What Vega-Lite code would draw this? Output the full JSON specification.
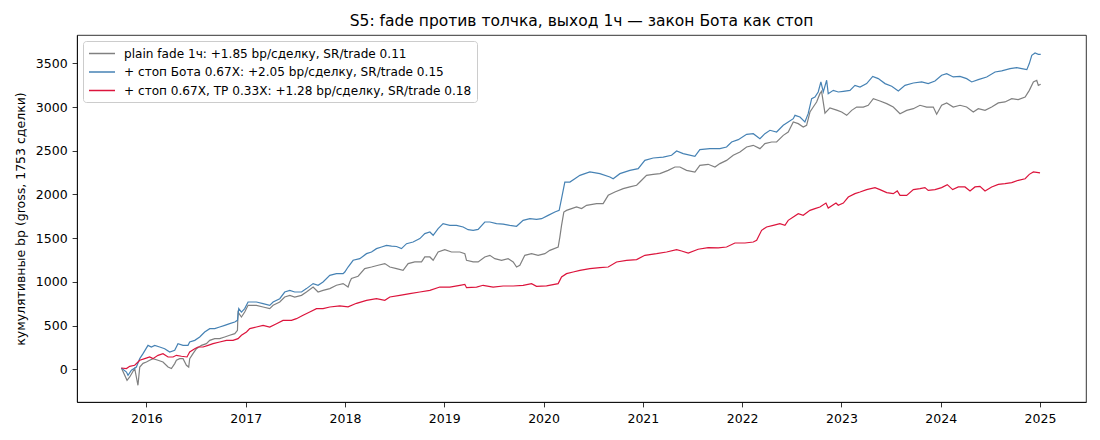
{
"$schema": "https://vega.github.io/schema/vega-lite/v6.json",
"width": 1009, "height": 367,
"autosize": {"type": "none"},
"padding": {"left": 77, "top": 35, "right": 14, "bottom": 38},
"background": "white",
"config": {"font": "DejaVu Sans", "view": {"stroke": "black", "strokeWidth": 0.8},
  "axis": {"labelFont": "DejaVu Sans", "labelFontSize": 12.5, "labelColor": "black", "tickColor": "black", "domainColor": "black", "tickSize": 4.9, "tickWidth": 0.8, "domainWidth": 0.8, "grid": false, "titleFont": "DejaVu Sans", "titleFontSize": 12.5, "titleFontWeight": "normal", "titleColor": "black"}},
"title": {"text": "S5: fade против толчка, выход 1ч — закон Бота как стоп", "font": "DejaVu Sans", "fontSize": 15.5, "fontWeight": "normal", "color": "black", "offset": 6, "anchor": "middle", "frame": "group"},
"data": {"values": [
{"s":"G","t":2015.748,"v":15},{"s":"G","t":2015.805,"v":-126},{"s":"G","t":2015.832,"v":-88},{"s":"G","t":2015.882,"v":10},{"s":"G","t":2015.915,"v":-183},{"s":"G","t":2015.933,"v":26},{"s":"G","t":2015.966,"v":68},{"s":"G","t":2016.0,"v":83},{"s":"G","t":2016.033,"v":103},{"s":"G","t":2016.066,"v":122},{"s":"G","t":2016.117,"v":103},{"s":"G","t":2016.167,"v":84},{"s":"G","t":2016.218,"v":26},{"s":"G","t":2016.252,"v":8},{"s":"G","t":2016.285,"v":65},{"s":"G","t":2016.302,"v":103},{"s":"G","t":2016.335,"v":122},{"s":"G","t":2016.369,"v":122},{"s":"G","t":2016.403,"v":46},{"s":"G","t":2016.426,"v":26},{"s":"G","t":2016.436,"v":122},{"s":"G","t":2016.469,"v":179},{"s":"G","t":2016.504,"v":236},{"s":"G","t":2016.554,"v":274},{"s":"G","t":2016.604,"v":293},{"s":"G","t":2016.638,"v":331},{"s":"G","t":2016.688,"v":351},{"s":"G","t":2016.738,"v":351},{"s":"G","t":2016.789,"v":370},{"s":"G","t":2016.839,"v":389},{"s":"G","t":2016.89,"v":408},{"s":"G","t":2016.917,"v":446},{"s":"G","t":2016.923,"v":655},{"s":"G","t":2016.957,"v":598},{"s":"G","t":2016.99,"v":655},{"s":"G","t":2017.024,"v":732},{"s":"G","t":2017.108,"v":732},{"s":"G","t":2017.175,"v":713},{"s":"G","t":2017.242,"v":694},{"s":"G","t":2017.276,"v":732},{"s":"G","t":2017.343,"v":770},{"s":"G","t":2017.393,"v":827},{"s":"G","t":2017.444,"v":846},{"s":"G","t":2017.494,"v":827},{"s":"G","t":2017.562,"v":846},{"s":"G","t":2017.612,"v":884},{"s":"G","t":2017.679,"v":941},{"s":"G","t":2017.729,"v":884},{"s":"G","t":2017.779,"v":903},{"s":"G","t":2017.847,"v":923},{"s":"G","t":2017.914,"v":961},{"s":"G","t":2017.981,"v":980},{"s":"G","t":2018.031,"v":941},{"s":"G","t":2018.048,"v":999},{"s":"G","t":2018.065,"v":1040},{"s":"G","t":2018.132,"v":1065},{"s":"G","t":2018.199,"v":1152},{"s":"G","t":2018.267,"v":1170},{"s":"G","t":2018.334,"v":1190},{"s":"G","t":2018.401,"v":1209},{"s":"G","t":2018.452,"v":1170},{"s":"G","t":2018.519,"v":1152},{"s":"G","t":2018.585,"v":1132},{"s":"G","t":2018.636,"v":1209},{"s":"G","t":2018.703,"v":1228},{"s":"G","t":2018.771,"v":1228},{"s":"G","t":2018.804,"v":1285},{"s":"G","t":2018.855,"v":1285},{"s":"G","t":2018.888,"v":1247},{"s":"G","t":2018.938,"v":1342},{"s":"G","t":2019.005,"v":1369},{"s":"G","t":2019.073,"v":1342},{"s":"G","t":2019.157,"v":1342},{"s":"G","t":2019.207,"v":1323},{"s":"G","t":2019.224,"v":1247},{"s":"G","t":2019.291,"v":1228},{"s":"G","t":2019.341,"v":1228},{"s":"G","t":2019.408,"v":1285},{"s":"G","t":2019.459,"v":1304},{"s":"G","t":2019.509,"v":1266},{"s":"G","t":2019.577,"v":1247},{"s":"G","t":2019.643,"v":1266},{"s":"G","t":2019.694,"v":1228},{"s":"G","t":2019.728,"v":1170},{"s":"G","t":2019.761,"v":1190},{"s":"G","t":2019.811,"v":1304},{"s":"G","t":2019.879,"v":1323},{"s":"G","t":2019.945,"v":1304},{"s":"G","t":2020.013,"v":1323},{"s":"G","t":2020.063,"v":1361},{"s":"G","t":2020.147,"v":1399},{"s":"G","t":2020.164,"v":1513},{"s":"G","t":2020.181,"v":1647},{"s":"G","t":2020.204,"v":1799},{"s":"G","t":2020.231,"v":1818},{"s":"G","t":2020.282,"v":1838},{"s":"G","t":2020.332,"v":1857},{"s":"G","t":2020.383,"v":1838},{"s":"G","t":2020.433,"v":1876},{"s":"G","t":2020.534,"v":1895},{"s":"G","t":2020.6,"v":1895},{"s":"G","t":2020.651,"v":1990},{"s":"G","t":2020.718,"v":2028},{"s":"G","t":2020.802,"v":2067},{"s":"G","t":2020.869,"v":2086},{"s":"G","t":2020.937,"v":2105},{"s":"G","t":2020.97,"v":2142},{"s":"G","t":2021.037,"v":2219},{"s":"G","t":2021.104,"v":2230},{"s":"G","t":2021.172,"v":2238},{"s":"G","t":2021.255,"v":2276},{"s":"G","t":2021.323,"v":2314},{"s":"G","t":2021.373,"v":2314},{"s":"G","t":2021.44,"v":2276},{"s":"G","t":2021.524,"v":2257},{"s":"G","t":2021.574,"v":2333},{"s":"G","t":2021.658,"v":2345},{"s":"G","t":2021.726,"v":2314},{"s":"G","t":2021.776,"v":2353},{"s":"G","t":2021.843,"v":2390},{"s":"G","t":2021.91,"v":2448},{"s":"G","t":2021.978,"v":2486},{"s":"G","t":2022.045,"v":2543},{"s":"G","t":2022.112,"v":2562},{"s":"G","t":2022.179,"v":2524},{"s":"G","t":2022.229,"v":2581},{"s":"G","t":2022.297,"v":2600},{"s":"G","t":2022.347,"v":2600},{"s":"G","t":2022.414,"v":2676},{"s":"G","t":2022.464,"v":2714},{"s":"G","t":2022.515,"v":2829},{"s":"G","t":2022.565,"v":2810},{"s":"G","t":2022.615,"v":2772},{"s":"G","t":2022.649,"v":2791},{"s":"G","t":2022.683,"v":2943},{"s":"G","t":2022.716,"v":3000},{"s":"G","t":2022.75,"v":3058},{"s":"G","t":2022.783,"v":3153},{"s":"G","t":2022.8,"v":3180},{"s":"G","t":2022.834,"v":2930},{"s":"G","t":2022.884,"v":2990},{"s":"G","t":2022.952,"v":2965},{"s":"G","t":2023.002,"v":2943},{"s":"G","t":2023.053,"v":2905},{"s":"G","t":2023.103,"v":2962},{"s":"G","t":2023.153,"v":3000},{"s":"G","t":2023.22,"v":3000},{"s":"G","t":2023.27,"v":3020},{"s":"G","t":2023.321,"v":3096},{"s":"G","t":2023.388,"v":3069},{"s":"G","t":2023.456,"v":3039},{"s":"G","t":2023.522,"v":3000},{"s":"G","t":2023.59,"v":2924},{"s":"G","t":2023.657,"v":2962},{"s":"G","t":2023.724,"v":2981},{"s":"G","t":2023.791,"v":3020},{"s":"G","t":2023.858,"v":3000},{"s":"G","t":2023.925,"v":3000},{"s":"G","t":2023.959,"v":2917},{"s":"G","t":2024.009,"v":3020},{"s":"G","t":2024.06,"v":3047},{"s":"G","t":2024.126,"v":3000},{"s":"G","t":2024.194,"v":3020},{"s":"G","t":2024.261,"v":3000},{"s":"G","t":2024.328,"v":2943},{"s":"G","t":2024.378,"v":2981},{"s":"G","t":2024.446,"v":2962},{"s":"G","t":2024.513,"v":3000},{"s":"G","t":2024.58,"v":3047},{"s":"G","t":2024.647,"v":3058},{"s":"G","t":2024.715,"v":3096},{"s":"G","t":2024.781,"v":3085},{"s":"G","t":2024.85,"v":3115},{"s":"G","t":2024.892,"v":3191},{"s":"G","t":2024.933,"v":3287},{"s":"G","t":2024.967,"v":3306},{"s":"G","t":2024.983,"v":3248},{"s":"G","t":2025.007,"v":3260},
{"s":"B","t":2015.748,"v":15},{"s":"B","t":2015.799,"v":-31},{"s":"B","t":2015.815,"v":-69},{"s":"B","t":2015.849,"v":-11},{"s":"B","t":2015.899,"v":26},{"s":"B","t":2015.933,"v":122},{"s":"B","t":2015.966,"v":179},{"s":"B","t":2016.016,"v":274},{"s":"B","t":2016.05,"v":255},{"s":"B","t":2016.084,"v":274},{"s":"B","t":2016.134,"v":255},{"s":"B","t":2016.184,"v":236},{"s":"B","t":2016.235,"v":198},{"s":"B","t":2016.285,"v":217},{"s":"B","t":2016.318,"v":293},{"s":"B","t":2016.369,"v":274},{"s":"B","t":2016.419,"v":274},{"s":"B","t":2016.436,"v":312},{"s":"B","t":2016.487,"v":331},{"s":"B","t":2016.537,"v":370},{"s":"B","t":2016.587,"v":427},{"s":"B","t":2016.638,"v":465},{"s":"B","t":2016.688,"v":465},{"s":"B","t":2016.738,"v":484},{"s":"B","t":2016.789,"v":503},{"s":"B","t":2016.839,"v":522},{"s":"B","t":2016.89,"v":541},{"s":"B","t":2016.917,"v":560},{"s":"B","t":2016.93,"v":694},{"s":"B","t":2016.957,"v":655},{"s":"B","t":2016.99,"v":694},{"s":"B","t":2017.024,"v":770},{"s":"B","t":2017.108,"v":770},{"s":"B","t":2017.175,"v":751},{"s":"B","t":2017.242,"v":732},{"s":"B","t":2017.276,"v":770},{"s":"B","t":2017.343,"v":808},{"s":"B","t":2017.393,"v":884},{"s":"B","t":2017.444,"v":903},{"s":"B","t":2017.494,"v":884},{"s":"B","t":2017.562,"v":884},{"s":"B","t":2017.612,"v":923},{"s":"B","t":2017.679,"v":980},{"s":"B","t":2017.729,"v":961},{"s":"B","t":2017.779,"v":999},{"s":"B","t":2017.847,"v":1075},{"s":"B","t":2017.914,"v":1094},{"s":"B","t":2017.981,"v":1094},{"s":"B","t":2017.998,"v":1113},{"s":"B","t":2018.031,"v":1170},{"s":"B","t":2018.082,"v":1247},{"s":"B","t":2018.149,"v":1266},{"s":"B","t":2018.217,"v":1323},{"s":"B","t":2018.267,"v":1342},{"s":"B","t":2018.317,"v":1380},{"s":"B","t":2018.368,"v":1399},{"s":"B","t":2018.418,"v":1418},{"s":"B","t":2018.469,"v":1410},{"s":"B","t":2018.519,"v":1405},{"s":"B","t":2018.569,"v":1380},{"s":"B","t":2018.62,"v":1437},{"s":"B","t":2018.686,"v":1456},{"s":"B","t":2018.754,"v":1495},{"s":"B","t":2018.804,"v":1552},{"s":"B","t":2018.855,"v":1570},{"s":"B","t":2018.888,"v":1533},{"s":"B","t":2018.938,"v":1609},{"s":"B","t":2018.988,"v":1666},{"s":"B","t":2019.056,"v":1647},{"s":"B","t":2019.123,"v":1647},{"s":"B","t":2019.19,"v":1628},{"s":"B","t":2019.24,"v":1597},{"s":"B","t":2019.291,"v":1590},{"s":"B","t":2019.341,"v":1600},{"s":"B","t":2019.408,"v":1685},{"s":"B","t":2019.459,"v":1685},{"s":"B","t":2019.526,"v":1666},{"s":"B","t":2019.593,"v":1660},{"s":"B","t":2019.66,"v":1647},{"s":"B","t":2019.728,"v":1636},{"s":"B","t":2019.794,"v":1704},{"s":"B","t":2019.862,"v":1723},{"s":"B","t":2019.929,"v":1715},{"s":"B","t":2019.98,"v":1723},{"s":"B","t":2020.046,"v":1761},{"s":"B","t":2020.114,"v":1799},{"s":"B","t":2020.157,"v":1818},{"s":"B","t":2020.181,"v":1952},{"s":"B","t":2020.214,"v":2142},{"s":"B","t":2020.265,"v":2142},{"s":"B","t":2020.315,"v":2180},{"s":"B","t":2020.366,"v":2219},{"s":"B","t":2020.416,"v":2238},{"s":"B","t":2020.466,"v":2257},{"s":"B","t":2020.567,"v":2238},{"s":"B","t":2020.668,"v":2200},{"s":"B","t":2020.701,"v":2180},{"s":"B","t":2020.769,"v":2238},{"s":"B","t":2020.869,"v":2276},{"s":"B","t":2020.953,"v":2295},{"s":"B","t":2021.02,"v":2390},{"s":"B","t":2021.104,"v":2417},{"s":"B","t":2021.205,"v":2428},{"s":"B","t":2021.289,"v":2448},{"s":"B","t":2021.34,"v":2497},{"s":"B","t":2021.406,"v":2467},{"s":"B","t":2021.524,"v":2436},{"s":"B","t":2021.574,"v":2513},{"s":"B","t":2021.675,"v":2524},{"s":"B","t":2021.776,"v":2524},{"s":"B","t":2021.843,"v":2543},{"s":"B","t":2021.894,"v":2600},{"s":"B","t":2021.961,"v":2627},{"s":"B","t":2022.045,"v":2688},{"s":"B","t":2022.112,"v":2695},{"s":"B","t":2022.179,"v":2638},{"s":"B","t":2022.229,"v":2695},{"s":"B","t":2022.28,"v":2734},{"s":"B","t":2022.347,"v":2714},{"s":"B","t":2022.414,"v":2791},{"s":"B","t":2022.464,"v":2829},{"s":"B","t":2022.515,"v":2867},{"s":"B","t":2022.532,"v":2905},{"s":"B","t":2022.582,"v":2886},{"s":"B","t":2022.632,"v":2829},{"s":"B","t":2022.665,"v":2924},{"s":"B","t":2022.7,"v":3096},{"s":"B","t":2022.733,"v":3115},{"s":"B","t":2022.766,"v":3172},{"s":"B","t":2022.793,"v":3287},{"s":"B","t":2022.817,"v":3172},{"s":"B","t":2022.851,"v":3306},{"s":"B","t":2022.867,"v":3153},{"s":"B","t":2022.918,"v":3191},{"s":"B","t":2022.968,"v":3172},{"s":"B","t":2023.019,"v":3180},{"s":"B","t":2023.086,"v":3191},{"s":"B","t":2023.136,"v":3248},{"s":"B","t":2023.187,"v":3229},{"s":"B","t":2023.254,"v":3268},{"s":"B","t":2023.315,"v":3351},{"s":"B","t":2023.371,"v":3325},{"s":"B","t":2023.439,"v":3268},{"s":"B","t":2023.506,"v":3237},{"s":"B","t":2023.573,"v":3184},{"s":"B","t":2023.64,"v":3248},{"s":"B","t":2023.724,"v":3275},{"s":"B","t":2023.808,"v":3287},{"s":"B","t":2023.874,"v":3268},{"s":"B","t":2023.942,"v":3298},{"s":"B","t":2024.009,"v":3363},{"s":"B","t":2024.06,"v":3382},{"s":"B","t":2024.126,"v":3344},{"s":"B","t":2024.194,"v":3351},{"s":"B","t":2024.261,"v":3325},{"s":"B","t":2024.312,"v":3287},{"s":"B","t":2024.378,"v":3313},{"s":"B","t":2024.463,"v":3344},{"s":"B","t":2024.547,"v":3401},{"s":"B","t":2024.614,"v":3413},{"s":"B","t":2024.698,"v":3439},{"s":"B","t":2024.765,"v":3451},{"s":"B","t":2024.816,"v":3440},{"s":"B","t":2024.867,"v":3428},{"s":"B","t":2024.892,"v":3497},{"s":"B","t":2024.917,"v":3592},{"s":"B","t":2024.95,"v":3618},{"s":"B","t":2024.983,"v":3603},{"s":"B","t":2025.007,"v":3603},
{"s":"R","t":2015.748,"v":15},{"s":"R","t":2015.799,"v":8},{"s":"R","t":2015.832,"v":34},{"s":"R","t":2015.882,"v":46},{"s":"R","t":2015.933,"v":103},{"s":"R","t":2015.983,"v":122},{"s":"R","t":2016.033,"v":141},{"s":"R","t":2016.066,"v":122},{"s":"R","t":2016.117,"v":160},{"s":"R","t":2016.167,"v":179},{"s":"R","t":2016.218,"v":141},{"s":"R","t":2016.268,"v":141},{"s":"R","t":2016.302,"v":160},{"s":"R","t":2016.353,"v":149},{"s":"R","t":2016.409,"v":141},{"s":"R","t":2016.436,"v":198},{"s":"R","t":2016.487,"v":236},{"s":"R","t":2016.52,"v":255},{"s":"R","t":2016.57,"v":255},{"s":"R","t":2016.621,"v":274},{"s":"R","t":2016.671,"v":293},{"s":"R","t":2016.738,"v":312},{"s":"R","t":2016.806,"v":331},{"s":"R","t":2016.872,"v":331},{"s":"R","t":2016.923,"v":351},{"s":"R","t":2016.957,"v":389},{"s":"R","t":2017.008,"v":427},{"s":"R","t":2017.041,"v":465},{"s":"R","t":2017.108,"v":484},{"s":"R","t":2017.175,"v":503},{"s":"R","t":2017.242,"v":484},{"s":"R","t":2017.31,"v":522},{"s":"R","t":2017.376,"v":560},{"s":"R","t":2017.461,"v":560},{"s":"R","t":2017.511,"v":579},{"s":"R","t":2017.578,"v":618},{"s":"R","t":2017.645,"v":655},{"s":"R","t":2017.713,"v":694},{"s":"R","t":2017.779,"v":694},{"s":"R","t":2017.847,"v":713},{"s":"R","t":2017.948,"v":725},{"s":"R","t":2018.031,"v":715},{"s":"R","t":2018.116,"v":755},{"s":"R","t":2018.217,"v":789},{"s":"R","t":2018.317,"v":808},{"s":"R","t":2018.401,"v":789},{"s":"R","t":2018.452,"v":827},{"s":"R","t":2018.552,"v":846},{"s":"R","t":2018.653,"v":866},{"s":"R","t":2018.754,"v":884},{"s":"R","t":2018.855,"v":903},{"s":"R","t":2018.955,"v":941},{"s":"R","t":2019.056,"v":941},{"s":"R","t":2019.157,"v":961},{"s":"R","t":2019.207,"v":972},{"s":"R","t":2019.224,"v":934},{"s":"R","t":2019.325,"v":941},{"s":"R","t":2019.391,"v":961},{"s":"R","t":2019.492,"v":941},{"s":"R","t":2019.593,"v":953},{"s":"R","t":2019.694,"v":953},{"s":"R","t":2019.794,"v":961},{"s":"R","t":2019.879,"v":980},{"s":"R","t":2019.929,"v":949},{"s":"R","t":2020.03,"v":955},{"s":"R","t":2020.147,"v":980},{"s":"R","t":2020.181,"v":1056},{"s":"R","t":2020.231,"v":1094},{"s":"R","t":2020.298,"v":1113},{"s":"R","t":2020.366,"v":1132},{"s":"R","t":2020.466,"v":1152},{"s":"R","t":2020.567,"v":1163},{"s":"R","t":2020.651,"v":1170},{"s":"R","t":2020.735,"v":1228},{"s":"R","t":2020.836,"v":1247},{"s":"R","t":2020.937,"v":1255},{"s":"R","t":2021.02,"v":1304},{"s":"R","t":2021.138,"v":1323},{"s":"R","t":2021.239,"v":1342},{"s":"R","t":2021.34,"v":1369},{"s":"R","t":2021.39,"v":1353},{"s":"R","t":2021.457,"v":1330},{"s":"R","t":2021.557,"v":1373},{"s":"R","t":2021.658,"v":1392},{"s":"R","t":2021.759,"v":1388},{"s":"R","t":2021.843,"v":1399},{"s":"R","t":2021.927,"v":1445},{"s":"R","t":2022.028,"v":1445},{"s":"R","t":2022.112,"v":1456},{"s":"R","t":2022.146,"v":1475},{"s":"R","t":2022.196,"v":1590},{"s":"R","t":2022.246,"v":1628},{"s":"R","t":2022.313,"v":1647},{"s":"R","t":2022.38,"v":1666},{"s":"R","t":2022.431,"v":1647},{"s":"R","t":2022.464,"v":1704},{"s":"R","t":2022.515,"v":1742},{"s":"R","t":2022.565,"v":1780},{"s":"R","t":2022.615,"v":1761},{"s":"R","t":2022.683,"v":1818},{"s":"R","t":2022.733,"v":1838},{"s":"R","t":2022.783,"v":1857},{"s":"R","t":2022.844,"v":1902},{"s":"R","t":2022.867,"v":1845},{"s":"R","t":2022.945,"v":1902},{"s":"R","t":2022.968,"v":1876},{"s":"R","t":2023.019,"v":1902},{"s":"R","t":2023.069,"v":1971},{"s":"R","t":2023.136,"v":2009},{"s":"R","t":2023.187,"v":2028},{"s":"R","t":2023.254,"v":2055},{"s":"R","t":2023.338,"v":2078},{"s":"R","t":2023.388,"v":2055},{"s":"R","t":2023.456,"v":2021},{"s":"R","t":2023.522,"v":2009},{"s":"R","t":2023.562,"v":2040},{"s":"R","t":2023.59,"v":1990},{"s":"R","t":2023.657,"v":1990},{"s":"R","t":2023.724,"v":2055},{"s":"R","t":2023.791,"v":2067},{"s":"R","t":2023.841,"v":2078},{"s":"R","t":2023.874,"v":2047},{"s":"R","t":2023.942,"v":2055},{"s":"R","t":2024.009,"v":2078},{"s":"R","t":2024.066,"v":2112},{"s":"R","t":2024.12,"v":2055},{"s":"R","t":2024.177,"v":2086},{"s":"R","t":2024.244,"v":2086},{"s":"R","t":2024.295,"v":2040},{"s":"R","t":2024.345,"v":2086},{"s":"R","t":2024.395,"v":2093},{"s":"R","t":2024.446,"v":2040},{"s":"R","t":2024.513,"v":2086},{"s":"R","t":2024.58,"v":2116},{"s":"R","t":2024.647,"v":2124},{"s":"R","t":2024.715,"v":2135},{"s":"R","t":2024.781,"v":2162},{"s":"R","t":2024.85,"v":2180},{"s":"R","t":2024.892,"v":2230},{"s":"R","t":2024.933,"v":2257},{"s":"R","t":2025.0,"v":2246}
]},
"mark": {"type": "line", "strokeWidth": 1.2},
"encoding": {
  "x": {"field": "t", "type": "quantitative", "scale": {"domain": [2015.301, 2025.463], "nice": false, "zero": false}, "axis": {"values": [2016,2017,2018,2019,2020,2021,2022,2023,2024,2025], "format": "d", "title": null, "labelPadding": 6, "labelFlush": false}},
  "y": {"field": "v", "type": "quantitative", "scale": {"domain": [-374, 3824], "nice": false, "zero": false}, "axis": {"values": [0,500,1000,1500,2000,2500,3000,3500], "format": "d", "title": "кумулятивные bp (gross, 1753 сделки)", "labelPadding": 5, "titlePadding": 8, "labelFlush": false}},
  "color": {"field": "s", "type": "nominal", "sort": ["G","B","R"], "scale": {"domain": ["G","B","R"], "range": ["#808080","#4682b4","#dc143c"]},
    "legend": {"title": null, "orient": "none", "legendX": 6, "legendY": 6, "fillColor": "rgba(255,255,255,0.8)", "strokeColor": "#cccccc", "cornerRadius": 3, "padding": 5, "symbolType": "M-1,0H3", "symbolSize": 169, "symbolStrokeWidth": 1.5, "labelFont": "DejaVu Sans", "labelFontSize": 12.1, "labelColor": "black", "labelOffset": 21, "rowPadding": 4.5, "labelLimit": 1000,
      "labelExpr": "datum.value == 'G' ? 'plain fade 1ч: +1.85 bp/сделку, SR/trade 0.11' : datum.value == 'B' ? '+ стоп Бота 0.67X: +2.05 bp/сделку, SR/trade 0.15' : '+ стоп 0.67X, TP 0.33X: +1.28 bp/сделку, SR/trade 0.18'"}}
}
}
